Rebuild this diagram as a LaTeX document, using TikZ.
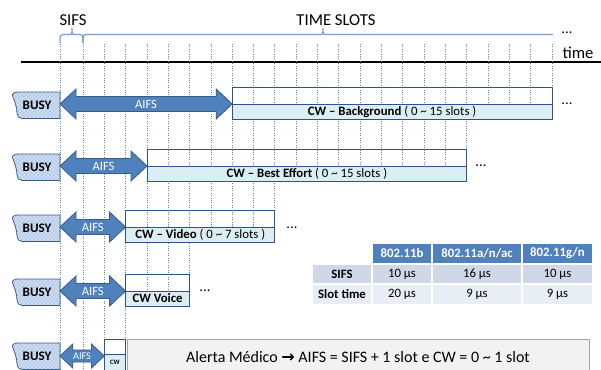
\documentclass[tikz,border=0pt]{standalone}
\usepackage{fontspec}
\setmainfont{Carlito}
\newfontfamily\arrowfont{DejaVu Sans}
\usetikzlibrary{calc,patterns}

\definecolor{aifsblue}{RGB}{79,129,189}
\definecolor{aifsborder}{RGB}{56,93,138}
\definecolor{boxborder}{RGB}{47,82,143}
\definecolor{cwfill}{RGB}{218,238,243}
\definecolor{slotblue}{RGB}{84,130,200}
\definecolor{braceblue}{RGB}{120,155,205}
\definecolor{busyfill}{RGB}{205,222,242}
\definecolor{busydots}{RGB}{110,145,200}
\definecolor{alertfill}{RGB}{242,242,242}
\definecolor{alertborder}{RGB}{166,166,166}
\definecolor{rowdark}{RGB}{208,216,232}
\definecolor{rowlight}{RGB}{233,237,244}

\tikzset{
  slotline/.style={draw=slotblue, line width=0.6pt, dash pattern=on 0.7pt off 1.1pt},
  slotbrace/.style={draw=braceblue, line width=0.9pt},
  busy/.style={draw=aifsborder, line width=0.6pt, preaction={fill=busyfill},
    pattern=crosshatch dots, pattern color=busydots},
  busytext/.style={font=\fontsize{9.8}{11}\selectfont\bfseries, text=black},
  aifs/.style={fill=aifsblue, draw=aifsborder, line width=0.6pt},
  aifstext/.style={font=\fontsize{9.5}{11}\selectfont, text=white},
  cwtop/.style={draw=boxborder, line width=0.7pt},
  cwbottom/.style={draw=boxborder, line width=0.7pt, fill=cwfill},
  cwtext/.style={font=\fontsize{9.6}{11}\selectfont, text=black, inner sep=0pt},
  toplabel/.style={font=\fontsize{12.5}{14}\selectfont},
  moredots/.style={font=\fontsize{11}{13}\selectfont, anchor=base},
  cellframe/.style={draw=white, line width=1pt},
  celltext/.style={font=\fontsize{9.6}{11}\selectfont, inner sep=0pt}
}

% busy medium: name, centre y
\newcommand{\busyshape}[2]{%
  \draw[busy] (60,#2-12) -- (18,#2-12) .. controls (14,#2-12) and (11,#2-10) .. (13,#2-7)
    .. controls (15,#2-2) and (17,#2+4) .. (17,#2+9)
    .. controls (17,#2+12) and (19,#2+14.5) .. (22,#2+14.5) -- (60,#2+14.5) -- cycle;
  \node[busytext] (#1) at (37,#2+1) {BUSY};}

% aifs double arrow: name, x1, x2, centre y, size
\newcommand{\aifsarrow}[5]{%
  \draw[aifs] (#2,#4) -- (#2+16*#5,#4-15*#5) -- (#2+16*#5,#4-7.5*#5) -- (#3-16*#5,#4-7.5*#5)
    -- (#3-16*#5,#4-15*#5) -- (#3,#4) -- (#3-16*#5,#4+15*#5) -- (#3-16*#5,#4+7.5*#5)
    -- (#2+16*#5,#4+7.5*#5) -- (#2+16*#5,#4+15*#5) -- cycle;}

% contention window: name, x1, x2, centre y, label
\newcommand{\cwbox}[5]{%
  \draw[cwtop] (#2,#4-17) rectangle (#3,#4);
  \draw[cwbottom] (#2,#4) rectangle (#3,#4+15);
  \node[cwtext] (#1) at ({(#2+#3)/2},#4+7.5) {#5};}

% table cell: name, x1, x2, y1, y2, fill, text
\newcommand{\tcell}[7]{%
  \draw[cellframe,fill=#6] (#2,#4) rectangle (#3,#5);
  \node[celltext] (#1) at ({(#2+#3)/2},{(#4+#5)/2}) {#7};}

\begin{document}
\begin{tikzpicture}[x=0.75pt,y=-0.75pt]
    \useasboundingbox (0,0) rectangle (601,369);

    %%% Time axis %%%
    \node[toplabel] (sifs) at (73,20) {SIFS};
    \node[toplabel] (slots) at (336,20) {TIME SLOTS};
    \node[moredots] (dotstop) at (567,33) {...};
    \node[toplabel] (time) at (578,53) {time};
    \draw[line width=1.1pt] (21,62) -- (601,62);

    \draw[slotbrace] (60,43) .. controls (60,35) .. (64,34.5) -- (69,34.5)
        .. controls (72,34.5) .. (72,28) .. controls (72,34.5) .. (75,34.5)
        -- (79,34.5) .. controls (83,35) .. (83,43);
    \draw[slotbrace] (83,43) .. controls (83,35) .. (87,34.5) -- (319,34.5)
        .. controls (323,34.5) .. (323,28) .. controls (323,34.5) .. (327,34.5) -- (553,34.5);

    % slot boundaries
    \draw[slotline] (60,44) -- (60,369);
    \draw[slotline] (83,44) -- (83,369);
    \foreach \k/\yb in {1/339,2/339,3/291,4/291,5/291,6/227,7/227,8/227,9/227,
        10/166,11/166,12/166,13/166,14/166,15/166,16/166,17/166,18/166,
        19/104,20/104,21/104,22/104}
        \draw[slotline] ({83+21.318*\k},44) -- ({83+21.318*\k},\yb);

    %%% Background %%%
    \busyshape{busy1}{104}
    \aifsarrow{aifs1}{60}{232.2}{104}{1}
    \node[aifstext] (aifs1) at (146,104) {AIFS};
    \cwbox{cw1}{232.2}{552}{104}{\textbf{CW – Background} ( 0 \textasciitilde{} 15 slots )}
    \node[moredots] (dots1) at (567,104) {...};

    %%% Best Effort %%%
    \busyshape{busy2}{166}
    \aifsarrow{aifs2}{60}{147}{166}{1}
    \node[aifstext] (aifs2) at (103.5,166) {AIFS};
    \cwbox{cw2}{147}{466.8}{166}{\textbf{CW – Best Effort} ( 0 \textasciitilde{} 15 slots )}
    \node[moredots] (dots2) at (481,166) {...};

    %%% Video %%%
    \busyshape{busy3}{227}
    \aifsarrow{aifs3}{60}{125.6}{227}{1}
    \node[aifstext] (aifs3) at (92.8,227) {AIFS};
    \cwbox{cw3}{125.6}{274.9}{227}{\textbf{CW – Video} ( 0 \textasciitilde{} 7 slots )}
    \node[moredots] (dots3) at (292,228) {...};

    %%% Voice %%%
    \busyshape{busy4}{291}
    \aifsarrow{aifs4}{60}{125.6}{291}{1}
    \node[aifstext] (aifs4) at (92.8,291) {AIFS};
    \cwbox{cw4}{125.6}{189.6}{291}{\textbf{CW Voice}}
    \node[moredots] (dots4) at (205,291) {...};

    %%% Alerta medico %%%
    \busyshape{busy5}{355}
    \aifsarrow{aifs5}{60}{104.3}{356}{0.8}
    \node[aifstext,font=\fontsize{7.7}{9}\selectfont] (aifs5) at (82,356) {AIFS};
    \draw[cwtop] (104.3,339) rectangle (125.6,354);
    \draw[cwbottom] (104.3,354) rectangle (125.6,375);
    \node[cwtext,font=\fontsize{5}{6}\selectfont\bfseries] (cw5) at (115,362) {CW};
    \draw[fill=alertfill,draw=alertborder,line width=0.7pt] (127,339) rectangle (589,375);
    \node[font=\fontsize{12}{14}\selectfont] (alert) at (358,357)
        {Alerta Médico {\arrowfont\bfseries →} AIFS = SIFS + 1 slot e CW = 0 \textasciitilde{} 1 slot};

    %%% Table %%%
    \tcell{h1}{372}{432}{243}{264}{aifsblue}{\textcolor{white}{\bfseries 802.11b}}
    \tcell{h2}{432}{522}{243}{264}{aifsblue}{\textcolor{white}{\bfseries 802.11a/n/ac}}
    \tcell{h3}{522}{593}{243}{264}{aifsblue}{\textcolor{white}{\bfseries 802.11g/n}}
    \tcell{r1}{312}{372}{264}{284}{rowdark}{\bfseries SIFS}
    \tcell{r1b}{372}{432}{264}{284}{rowdark}{10 µs}
    \tcell{r1an}{432}{522}{264}{284}{rowdark}{16 µs}
    \tcell{r1g}{522}{593}{264}{284}{rowdark}{10 µs}
    \tcell{r2}{312}{372}{284}{305}{rowlight}{\bfseries Slot time}
    \tcell{r2b}{372}{432}{284}{305}{rowlight}{20 µs}
    \tcell{r2an}{432}{522}{284}{305}{rowlight}{9 µs}
    \tcell{r2g}{522}{593}{284}{305}{rowlight}{9 µs}

\end{tikzpicture}
\end{document}
